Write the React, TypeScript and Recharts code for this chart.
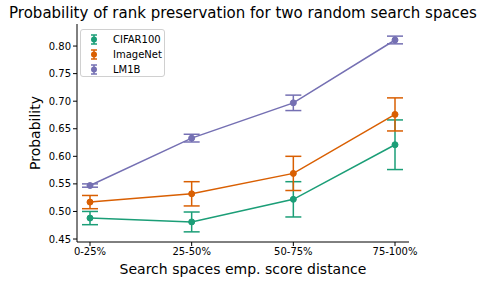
import { LineChart, Line, XAxis, YAxis, ErrorBar } from 'recharts';

const categories = ['0-25%', '25-50%', '50-75%', '75-100%'];
const cifar = [0.488, 0.481, 0.522, 0.621];
const cifarErr = [0.012, 0.018, 0.032, 0.045];
const imagenet = [0.517, 0.532, 0.569, 0.676];
const imagenetErr = [0.012, 0.022, 0.031, 0.03];
const lm1b = [0.547, 0.633, 0.697, 0.811];
const lm1bErr = [0.003, 0.007, 0.014, 0.007];
const yTicks = [0.45, 0.5, 0.55, 0.6, 0.65, 0.7, 0.75, 0.8];

const series = [
    { key: 'cifar', name: 'CIFAR100', color: '#1b9e77' },
    { key: 'imagenet', name: 'ImageNet', color: '#d95f02' },
    { key: 'lm1b', name: 'LM1B', color: '#7570b3' },
];

const data = categories.map((c, i) => ({
    cat: c,
    cifar: cifar[i],
    cifarErr: cifarErr[i],
    imagenet: imagenet[i],
    imagenetErr: imagenetErr[i],
    lm1b: lm1b[i],
    lm1bErr: lm1bErr[i],
}));

const font = '"DejaVu Sans", sans-serif';

function LegendBox() {
    return (
        <div
            style={{
                position: 'absolute',
                left: 80,
                top: 29,
                width: 85,
                height: 48,
                border: '1px solid #d0d0d0',
                borderRadius: 3,
                background: 'rgba(255,255,255,0.8)',
                fontFamily: font,
                fontSize: 10,
                boxSizing: 'border-box',
                paddingTop: 2,
            }}
        >
            {series.map((s) => (
                <div key={s.key} style={{ display: 'flex', alignItems: 'center', height: 15 }}>
                    <svg width={30} height={15}>
                        <line x1={13} x2={13} y1={3} y2={12} stroke={s.color} strokeWidth={1.5} />
                        <line x1={10} x2={16} y1={3} y2={3} stroke={s.color} strokeWidth={1.5} />
                        <line x1={10} x2={16} y1={12} y2={12} stroke={s.color} strokeWidth={1.5} />
                        <circle cx={13} cy={7.5} r={3} fill={s.color} />
                    </svg>
                    <span style={{ marginLeft: 2 }}>{s.name}</span>
                </div>
            ))}
        </div>
    );
}

export default function App() {
    return (
        <div style={{ position: 'fixed', left: 0, top: 0, width: 485, height: 284, background: '#fff' }}>
            <div
                style={{
                    position: 'absolute',
                    left: 0,
                    top: 4,
                    width: 486,
                    textAlign: 'center',
                    fontFamily: font,
                    fontSize: 15,
                    whiteSpace: 'nowrap',
                }}
            >
                Probability of rank preservation for two random search spaces
            </div>
            <div
                style={{
                    position: 'absolute',
                    left: 35,
                    top: 133,
                    transform: 'translate(-50%, -50%) rotate(-90deg)',
                    fontFamily: font,
                    fontSize: 14,
                    whiteSpace: 'nowrap',
                }}
            >
                Probability
            </div>
            <div
                style={{
                    position: 'absolute',
                    left: 77,
                    width: 332,
                    top: 261,
                    textAlign: 'center',
                    fontFamily: font,
                    fontSize: 14,
                    whiteSpace: 'nowrap',
                }}
            >
                Search spaces emp. score distance
            </div>
            <div style={{ position: 'absolute', left: 0, top: 0 }}>
                <LineChart width={485} height={284} data={data} margin={{ top: 24, right: 76, bottom: 0, left: 0 }}>
                    <XAxis
                        dataKey="cat"
                        padding={{ left: 13, right: 14 }}
                        axisLine={{ stroke: '#000' }}
                        tickLine={{ stroke: '#000' }}
                        tickSize={4}
                        tick={{ fill: '#000', fontSize: 10, fontFamily: font }}
                        height={42}
                    />
                    <XAxis xAxisId="top" dataKey="cat" orientation="top" tick={false} tickLine={false} axisLine={{ stroke: '#000' }} height={0} />
                    <YAxis
                        type="number"
                        domain={[0.4446, 0.84]}
                        allowDataOverflow
                        ticks={yTicks}
                        tickFormatter={(v: number) => v.toFixed(2)}
                        axisLine={{ stroke: '#000' }}
                        tickLine={{ stroke: '#000' }}
                        tickSize={4}
                        tick={{ fill: '#000', fontSize: 10, fontFamily: font }}
                        width={77}
                    />
                    <YAxis yAxisId="right" orientation="right" tick={false} tickLine={false} axisLine={{ stroke: '#000' }} width={0} />
                    {series.map((s) => (
                        <Line
                            key={s.key}
                            dataKey={s.key}
                            stroke={s.color}
                            strokeWidth={1.5}
                            dot={{ r: 3, fill: s.color, stroke: s.color, strokeWidth: 1 }}
                            isAnimationActive={false}
                        >
                            <ErrorBar dataKey={`${s.key}Err`} direction="y" width={8} stroke={s.color} strokeWidth={1.5} />
                        </Line>
                    ))}
                </LineChart>
            </div>
            <LegendBox />
        </div>
    );
}
